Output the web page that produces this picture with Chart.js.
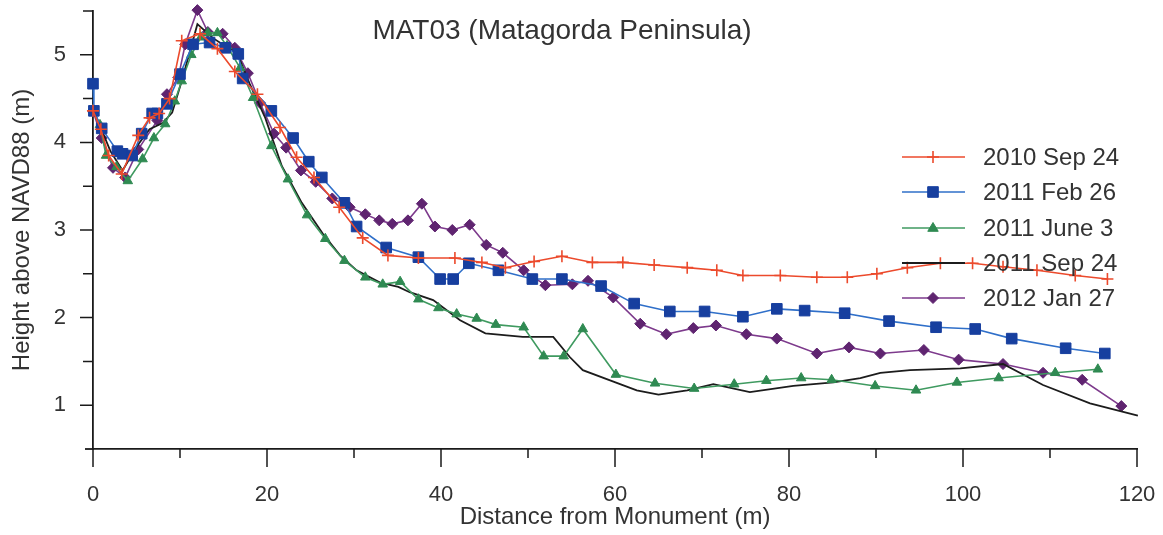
<!DOCTYPE html>
<html>
<head>
<meta charset="utf-8">
<script src="https://cdn.jsdelivr.net/npm/chart.js@4.4.1/dist/chart.umd.min.js"></script>
<style>
  html, body { margin: 0; padding: 0; background: #fff; }
  #wrap { width: 1163px; height: 535px; position: relative; }
</style>
</head>
<body>
<div id="wrap"><canvas id="c" width="1163" height="535"></canvas></div>
<script>
// ---- Data ----
const chartTitle = 'MAT03 (Matagorda Peninsula)';
const xTitle = 'Distance from Monument (m)';
const yTitle = 'Height above NAVD88 (m)';
const seriesNames = ['2010 Sep 24', '2011 Feb 26', '2011 June 3', '2011 Sep 24', '2012 Jan 27'];

const sep2010X = [0, 0.9, 1.8, 3.3, 5.2, 6.5, 7.6, 8.8, 10.2, 12.3, 14.3, 16.3, 18.9, 21.5, 23.4, 25.4, 28.3, 31, 33.9, 37.4, 41.6, 44.7, 47.4, 50.7, 53.9, 57.4, 60.9, 64.5, 68.3, 71.7, 74.7, 79, 83.2, 86.7, 90.1, 93.6, 97.4, 101.1, 104.6, 108.5, 112.9, 116.6];
const sep2010Y = [4.36, 4.15, 3.85, 3.64, 4.08, 4.28, 4.33, 4.5, 5.16, 5.24, 5.07, 4.81, 4.55, 4.17, 3.83, 3.6, 3.26, 2.91, 2.71, 2.68, 2.68, 2.63, 2.57, 2.64, 2.7, 2.63, 2.63, 2.6, 2.57, 2.54, 2.48, 2.48, 2.46, 2.46, 2.5, 2.57, 2.62, 2.62, 2.58, 2.54, 2.48, 2.44];

const feb2011X = [0, 0.1, 1.0, 2.8, 3.4, 4.5, 5.6, 6.8, 7.4, 8.5, 10, 11.5, 13.4, 15.2, 16.7, 17.2, 20.5, 23, 24.8, 26.3, 28.9, 30.3, 33.7, 37.4, 39.9, 41.4, 43.2, 46.6, 50.5, 53.9, 58.4, 62.2, 66.3, 70.3, 74.7, 78.6, 81.8, 86.4, 91.5, 96.9, 101.4, 105.6, 111.8, 116.3];
const feb2011Y = [4.67, 4.36, 4.16, 3.9, 3.87, 3.85, 4.1, 4.33, 4.33, 4.44, 4.78, 5.12, 5.14, 5.08, 5.01, 4.73, 4.36, 4.05, 3.78, 3.6, 3.31, 3.04, 2.8, 2.69, 2.44, 2.44, 2.62, 2.54, 2.44, 2.44, 2.36, 2.16, 2.07, 2.07, 2.01, 2.1, 2.08, 2.05, 1.96, 1.89, 1.87, 1.76, 1.65, 1.59];

const jun2011X = [0, 0.8, 1.5, 2.7, 4.0, 5.7, 7, 8.3, 9.4, 10.2, 11.3, 12.4, 13.2, 14.3, 15.4, 16.9, 18.4, 20.5, 22.4, 24.6, 26.7, 28.9, 31.3, 33.3, 35.3, 37.4, 39.7, 41.8, 44.1, 46.3, 49.5, 51.8, 54.1, 56.3, 60.1, 64.6, 69.1, 73.7, 77.4, 81.4, 84.9, 89.9, 94.6, 99.3, 104.1, 110.6, 115.5];
const jun2011Y = [4.37, 4.2, 3.85, 3.72, 3.56, 3.81, 4.05, 4.21, 4.47, 4.7, 5.0, 5.2, 5.25, 5.25, 5.1, 4.85, 4.51, 3.96, 3.58, 3.17, 2.9, 2.65, 2.46, 2.38, 2.41, 2.21, 2.11, 2.04, 1.99, 1.92, 1.89, 1.56, 1.56, 1.87, 1.35, 1.25, 1.19, 1.24, 1.28, 1.31, 1.29, 1.22, 1.17, 1.26, 1.31, 1.37, 1.41];

const sep2011X = [0, 0.8, 2.0, 3.4, 5, 6.5, 8, 9.1, 10.2, 12, 13.8, 16.6, 18, 19.8, 21.7, 24, 26.4, 28.4, 30.3, 33, 35.1, 36.4, 39.1, 42.2, 45.1, 49.4, 52.9, 54.8, 56.3, 62.5, 65, 68.3, 71.3, 75.5, 80.5, 85.1, 88.2, 90.5, 93.9, 99.7, 104.6, 109.2, 114.6, 120.1];
const sep2011Y = [4.38, 4.19, 3.9, 3.68, 3.95, 4.15, 4.22, 4.34, 4.7, 5.35, 5.19, 5.01, 4.67, 4.28, 3.73, 3.31, 2.96, 2.71, 2.54, 2.4, 2.35, 2.29, 2.2, 1.97, 1.82, 1.78, 1.78, 1.55, 1.4, 1.17, 1.12, 1.17, 1.24, 1.15, 1.22, 1.26, 1.31, 1.37, 1.4, 1.42, 1.47, 1.23, 1.02, 0.88];

const jan2012X = [0, 1, 2.3, 3.7, 5.2, 7.4, 8.5, 9.8, 10.6, 12, 13.2, 14.9, 16.3, 17.8, 19.2, 20.8, 22.2, 23.9, 25.6, 27.5, 29.5, 31.3, 32.9, 34.4, 36.2, 37.8, 39.3, 41.3, 43.3, 45.2, 47.1, 49.5, 52, 55.1, 56.9, 59.8, 62.9, 65.9, 69, 71.6, 75.1, 78.6, 83.2, 86.9, 90.5, 95.5, 99.5, 104.6, 109.2, 113.7, 118.2];
const jan2012Y = [4.36, 4.05, 3.71, 3.6, 3.92, 4.25, 4.55, 4.74, 5.12, 5.51, 5.26, 5.24, 5.08, 4.79, 4.45, 4.1, 3.94, 3.68, 3.55, 3.36, 3.26, 3.18, 3.11, 3.07, 3.11, 3.3, 3.04, 3.0, 3.06, 2.83, 2.74, 2.54, 2.37, 2.38, 2.42, 2.23, 1.93, 1.81, 1.88, 1.91, 1.81, 1.76, 1.59, 1.66, 1.59, 1.63, 1.52, 1.47, 1.37, 1.29, 0.99];

const xMajorTicks = [0, 20, 40, 60, 80, 100, 120];
const xMinorTicks = [10, 30, 50, 70, 90, 110];
const yMajorTicks = [1, 2, 3, 4, 5];
const yMinorTicks = [1.5, 2.5, 3.5, 4.5, 5.5];

// ---- Build datasets ----
function pts(xs, ys) { return xs.map((x, i) => ({ x: x, y: ys[i] })); }

const FONT = '"Liberation Sans", Arial, sans-serif';
const styles = [
  { line: '#ec4a2c', fill: '#ec4a2c', style: 'cross', r: 6, bw: 1.6 },
  { line: '#2f6fc9', fill: '#173f9f', style: 'rect', r: 7.5, bw: 1 },
  { line: '#3f9a60', fill: '#2f8a52', style: 'triangle', r: 5.5, bw: 1 },
  { line: '#1c1c1c', fill: '#1c1c1c', style: false, r: 0, bw: 1 },
  { line: '#7d3a8c', fill: '#5f2470', style: 'rectRot', r: 5.5, bw: 1 }
];
const seriesData = [pts(sep2010X, sep2010Y), pts(feb2011X, feb2011Y), pts(jun2011X, jun2011Y), pts(sep2011X, sep2011Y), pts(jan2012X, jan2012Y)];

const datasets = seriesNames.map((name, i) => ({
  label: name,
  data: seriesData[i],
  borderColor: styles[i].line,
  backgroundColor: styles[i].fill,
  borderWidth: i === 3 ? 1.8 : 1.6,
  pointStyle: styles[i].style,
  pointRadius: styles[i].r,
  pointBorderColor: i === 0 ? styles[i].line : styles[i].fill,
  pointBackgroundColor: styles[i].fill,
  pointBorderWidth: styles[i].bw,
  tension: 0,
  clip: false
}));

function drawMarker(ctx, style, x, y, r, fill, stroke, bw) {
  if (!style) return;
  ctx.save();
  ctx.fillStyle = fill; ctx.strokeStyle = stroke; ctx.lineWidth = bw;
  ctx.beginPath();
  if (style === 'cross') {
    ctx.moveTo(x - r, y); ctx.lineTo(x + r, y);
    ctx.moveTo(x, y - r); ctx.lineTo(x, y + r);
    ctx.stroke();
  } else if (style === 'rect') {
    const s = Math.SQRT1_2 * r;
    ctx.rect(x - s, y - s, 2 * s, 2 * s); ctx.fill(); ctx.stroke();
  } else if (style === 'triangle') {
    ctx.moveTo(x, y - r); ctx.lineTo(x + r * 0.95, y + r * 0.6); ctx.lineTo(x - r * 0.95, y + r * 0.6); ctx.closePath();
    ctx.fill(); ctx.stroke();
  } else if (style === 'rectRot') {
    ctx.moveTo(x, y - r); ctx.lineTo(x + r, y); ctx.lineTo(x, y + r); ctx.lineTo(x - r, y); ctx.closePath();
    ctx.fill(); ctx.stroke();
  }
  ctx.restore();
}

const decorPlugin = {
  id: 'decor',
  afterDraw(chart) {
    const ctx = chart.ctx;
    const xs = chart.scales.x, ys = chart.scales.y;
    const axisY = ys.getPixelForValue(0.5);
    const axisX = xs.getPixelForValue(0);
    ctx.save();
    ctx.strokeStyle = '#1a1a1a';
    ctx.lineWidth = 1.5;
    ctx.beginPath();
    xMajorTicks.forEach(v => { const p = xs.getPixelForValue(v); ctx.moveTo(p, axisY); ctx.lineTo(p, axisY + 18); });
    xMinorTicks.forEach(v => { const p = xs.getPixelForValue(v); ctx.moveTo(p, axisY); ctx.lineTo(p, axisY + 9); });
    yMajorTicks.forEach(v => { const p = ys.getPixelForValue(v); ctx.moveTo(axisX, p); ctx.lineTo(axisX - 13, p); });
    yMinorTicks.forEach(v => { const p = ys.getPixelForValue(v); ctx.moveTo(axisX, p); ctx.lineTo(axisX - 10, p); });
    ctx.stroke();
    // small extension of the x axis line to the left of the y axis
    ctx.lineWidth = 1.8;
    ctx.beginPath(); ctx.moveTo(axisX - 8, axisY); ctx.lineTo(axisX, axisY); ctx.stroke();

    // title inside plot
    ctx.fillStyle = '#333';
    ctx.font = '28px ' + FONT;
    ctx.textAlign = 'center';
    ctx.textBaseline = 'middle';
    ctx.fillText(chartTitle, 562, 31);

    // legend inside plot
    const rowY = [157, 192, 228, 263, 298];
    ctx.font = '24px ' + FONT;
    ctx.textAlign = 'left';
    seriesNames.forEach((name, i) => {
      const y = rowY[i];
      ctx.strokeStyle = styles[i].line;
      ctx.lineWidth = i === 3 ? 1.8 : 1.6;
      ctx.beginPath(); ctx.moveTo(902, y); ctx.lineTo(965, y); ctx.stroke();
      drawMarker(ctx, styles[i].style, 933, y, styles[i].r, styles[i].fill, i === 0 ? styles[i].line : styles[i].fill, styles[i].bw);
      ctx.fillStyle = '#333';
      ctx.fillText(name, 983, y + 1);
    });
    ctx.restore();
  }
};

function zeroPad(s) { s.paddingLeft = 0; s.paddingRight = 0; s.paddingTop = 0; s.paddingBottom = 0; }

new Chart(document.getElementById('c'), {
  type: 'line',
  data: { datasets: datasets },
  plugins: [decorPlugin],
  options: {
    responsive: false,
    animation: false,
    layout: { padding: { top: 11, right: 26, left: 0, bottom: 0 } },
    plugins: { legend: { display: false }, title: { display: false }, tooltip: { enabled: false } },
    scales: {
      x: {
        type: 'linear', min: 0, max: 120,
        afterFit: s => { s.height = 86; zeroPad(s); },
        grid: { display: false },
        border: { display: true, color: '#1a1a1a', width: 1.8 },
        ticks: { stepSize: 20, padding: 25, color: '#333', font: { family: FONT, size: 22 }, maxRotation: 0, autoSkip: false },
        title: { display: true, text: xTitle, color: '#333', padding: { top: 0, bottom: 3 }, font: { family: FONT, size: 24 } }
      },
      y: {
        type: 'linear', min: 0.5, max: 5.5,
        afterFit: s => { s.width = 93; zeroPad(s); },
        grid: { display: false },
        border: { display: true, color: '#1a1a1a', width: 1.8 },
        ticks: { stepSize: 1, padding: 19, color: '#333', font: { family: FONT, size: 22 },
          callback: v => (Number.isInteger(v) ? String(v) : '') },
        afterBuildTicks: s => { s.ticks = yMajorTicks.map(v => ({ value: v })); },
        title: { display: true, text: yTitle, color: '#333', padding: { top: 8, bottom: 0 }, font: { family: FONT, size: 24 } }
      }
    }
  }
});
</script>
</body>
</html>
